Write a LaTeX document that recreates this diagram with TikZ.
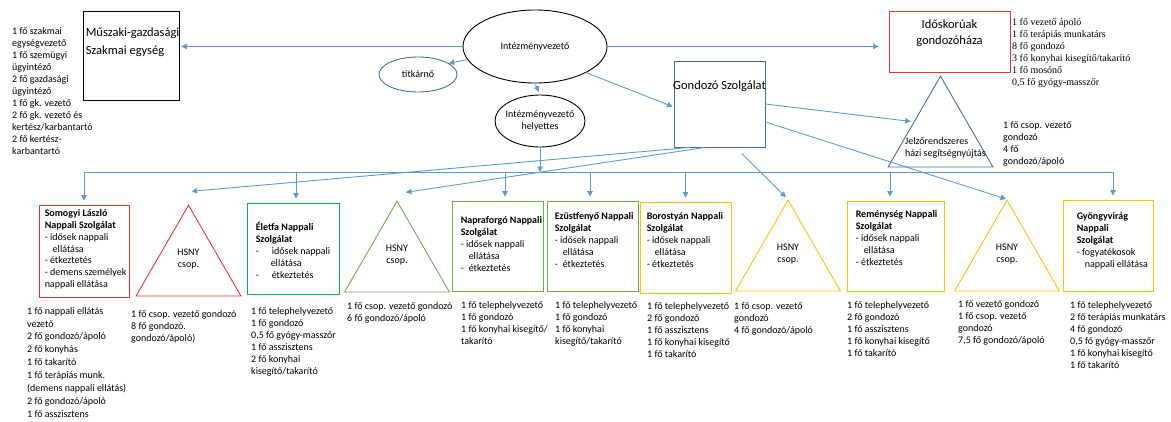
\documentclass[tikz,border=0pt]{standalone}
\usepackage{fontspec}
\setmainfont{Carlito}
\newfontfamily\timesfont{Liberation Serif}
\usetikzlibrary{shapes.geometric,arrows.meta}
\definecolor{lineblue}{RGB}{91,155,213}
\definecolor{darkblue}{RGB}{65,113,156}
\definecolor{boxred}{RGB}{237,50,50}
\definecolor{boxgreen}{RGB}{0,176,80}
\definecolor{lightgreen}{RGB}{112,173,71}
\definecolor{boxyellow}{RGB}{255,192,0}
\tikzset{
  conn/.style={draw=lineblue, line width=0.9pt},
  arr/.style={conn, -{Triangle[length=5.5pt,width=5.5pt]}},
  unit/.style={rectangle, draw, line width=0.9pt, inner sep=0pt},
  oval/.style={ellipse, draw, line width=0.9pt, inner sep=0pt, font=\fontsize{10}{12}\selectfont},
  hsny/.style={regular polygon, regular polygon sides=3, minimum size=121pt, inner sep=0pt,
    draw, line width=0.9pt, align=center, font=\fontsize{10}{11.5}\selectfont},
  txt/.style={inner sep=0pt, font=\fontsize{10}{12}\selectfont},
  lst/.style={txt, anchor=north west, align=left},
}
\begin{document}
\begin{tikzpicture}[x=1pt, y=-1pt]
\useasboundingbox (0,0) rectangle (1171,421);

\node[oval, minimum width=144pt, minimum height=73pt] (iv) at (535,46.5) {Intézményvezető};
\node[oval, draw=darkblue, minimum width=78pt, minimum height=35pt] (titk) at (418,74.5) {titkárnő};
\node[oval, minimum width=90pt, minimum height=52pt] (dep) at (540,121) {};
\node[txt, align=center, font=\fontsize{10}{11.5}\selectfont] (deptxt) at (dep) {Intézményvezető\\helyettes};

\node[unit, minimum width=96pt, minimum height=89pt] (musz) at (131,55.5) {};
\node[lst, font=\fontsize{12.5}{18}\selectfont] (musztxt) at ([xshift=3pt,yshift=-17pt]musz.north west) {Műszaki-gazdasági\\Szakmai egység};
\node[lst] (muszlst) at (12,27) {1 fő szakmai\\egységvezető\\1 fő szemügyi\\ügyintéző\\2 fő gazdasági\\ügyintéző\\1 fő gk. vezető\\2 fő gk. vezető és\\kertész/karbantartó\\2 fő kertész-\\karbantartó};

\node[unit, draw=boxred, minimum width=121pt, minimum height=61pt] (idos) at (949.5,41.5) {};
\node[txt, align=center, font=\fontsize{12.5}{16}\selectfont] (idostxt) at ([yshift=8.5pt]idos.center) {Időskorúak\\gondozóháza};
\node[lst, font=\timesfont\fontsize{10}{12}\selectfont] (idoslst) at (1012,18) {1 fő vezető ápoló\\1 fő terápiás munkatárs\\8 fő gondozó\\3 fő konyhai kisegítő/takarító\\1 fő mosónő\\0,5 fő gyógy-masszőr};

\node[unit, draw=darkblue, minimum width=91pt, minimum height=86pt] (gondozo) at (719.5,104) {};
\node[txt, font=\fontsize{12.5}{15}\selectfont] (gondozotxt) at ([yshift=-26pt]gondozo.north) {Gondozó Szolgálat};

\node[hsny, draw=darkblue] (jelzo) at (940.5,136.7) {};
\node[lst] (jelzotxt) at (905,137) {Jelzőrendszeres\\házi segítségnyújtás};
\node[lst] (jelzolst) at (1003,121) {1 fő csop. vezető\\gondozó\\4 fő\\gondozó/ápoló};

\node[unit, draw=boxred, minimum width=90pt, minimum height=92pt] (somogyi) at (84,251) {};
\node[lst, font=\fontsize{10}{11.8}\selectfont] (somogyitxt) at ([xshift=6pt,yshift=-5pt]somogyi.north west) {\textbf{Somogyi László}\\\textbf{Nappali Szolgálat}\\- idősek nappali\\\hspace*{0.8em}ellátása\\- étkeztetés\\- demens személyek\\nappali ellátása};
\node[lst, font=\fontsize{10}{12.9}\selectfont] (somogyilst) at (27,307) {1 fő nappali ellátás\\vezető\\2 fő gondozó/ápoló\\2 fő konyhás\\1 fő takarító\\1 fő terápiás munk.\\(demens nappali ellátás)\\2 fő gondozó/ápoló\\1 fő asszisztens};

\node[hsny, draw=boxred] (hsnya) at (188.5,265.7) {HSNY\\csop.\\[3pt]};
\node[lst] (hsnyalst) at (131,310) {1 fő csop. vezető gondozó\\8 fő gondozó.\\gondozó/ápoló)};

\node[unit, draw=boxgreen, minimum width=92pt, minimum height=91pt] (eletfa) at (293,248.5) {};
\node[lst] (eletfatxt) at ([xshift=9pt,yshift=-19pt]eletfa.north west) {\textbf{Életfa Nappali}\\\textbf{Szolgálat}\\-\hspace{1.3em}idősek nappali\\\hspace*{1.5em}ellátása\\-\hspace{1.3em}étkeztetés};
\node[lst] (eletfalst) at (251,307) {1 fő telephelyvezető\\1 fő gondozó\\0,5 fő gyógy-masszőr\\1 fő asszisztens\\2 fő konyhai\\kisegítő/takarító};

\node[hsny, draw=lightgreen] (hsnyb) at (397,261.7) {HSNY\\csop.\\[3pt]};
\node[lst] (hsnyblst) at (347,302) {1 fő csop. vezető gondozó\\6 fő gondozó/ápoló};

\node[unit, draw=lightgreen, minimum width=91pt, minimum height=90pt] (napra) at (497.5,246) {};
\node[lst] (napratxt) at ([xshift=9pt,yshift=-16pt]napra.north west) {\textbf{Napraforgó Nappali}\\\textbf{Szolgálat}\\- idősek nappali\\\hspace*{0.8em}ellátása\\-\hspace{0.5em}étkeztetés};
\node[lst] (napralst) at (461,301) {1 fő telephelyvezető\\1 fő gondozó\\1 fő konyhai kisegítő/\\takarító};

\node[unit, draw=lightgreen, minimum width=91pt, minimum height=90pt] (ezust) at (592.5,246) {};
\node[lst] (ezusttxt) at ([xshift=8pt,yshift=-12pt]ezust.north west) {\textbf{Ezüstfenyő Nappali}\\\textbf{Szolgálat}\\- idősek nappali\\\hspace*{0.8em}ellátása\\-\hspace{0.5em}étkeztetés};
\node[lst] (ezustlst) at (555,301) {1 fő telephelyvezető\\1 fő gondozó\\1 fő konyhai\\kisegítő/takarító};

\node[unit, draw=boxyellow, minimum width=91pt, minimum height=91pt] (boros) at (685.5,247.5) {};
\node[lst] (borostxt) at ([xshift=7pt,yshift=-11pt]boros.north west) {\textbf{Borostyán Nappali}\\\textbf{Szolgálat}\\- idősek nappali\\\hspace*{0.8em}ellátása\\- étkeztetés};
\node[lst] (boroslst) at (647,302) {1 fő telephelyvezető\\2 fő gondozó\\1 fő asszisztens\\1 fő konyhai kisegítő\\1 fő takarító};

\node[hsny, draw=boxyellow] (hsnyc) at (788,260.7) {HSNY\\csop.\\[3pt]};
\node[lst] (hsnyclst) at (734,302) {1 fő csop. vezető\\gondozó\\4 fő gondozó/ápoló};

\node[unit, draw=boxyellow, minimum width=97pt, minimum height=90pt] (remeny) at (895.5,246) {};
\node[lst] (remenytxt) at ([xshift=9pt,yshift=-10pt]remeny.north west) {\textbf{Reménység Nappali}\\\textbf{Szolgálat}\\- idősek nappali\\\hspace*{0.8em}ellátása\\- étkeztetés};
\node[lst] (remenylst) at (847,301) {1 fő telephelyvezető\\2 fő gondozó\\1 fő asszisztens\\1 fő konyhai kisegítő\\1 fő takarító};

\node[hsny, draw=boxyellow] (hsnyd) at (1007,260.7) {HSNY\\csop.\\[3pt]};
\node[lst] (hsnydlst) at (958,300) {1 fő vezető gondozó\\1 fő csop. vezető\\gondozó\\7,5 fő gondozó/ápoló};

\node[unit, draw=boxyellow, minimum width=90pt, minimum height=91pt] (gyongy) at (1108,245.5) {};
\node[lst] (gyongytxt) at ([xshift=14pt,yshift=-13pt]gyongy.north west) {\textbf{Gyöngyvirág}\\\textbf{Nappali}\\\textbf{Szolgálat}\\- fogyatékosok\\\hspace*{0.8em}nappali ellátása};
\node[lst] (gyongylst) at (1070,301) {1 fő telephelyvezető\\2 fő terápiás munkatárs\\4 fő gondozó\\0,5 fő gyógy-masszőr\\1 fő konyhai kisegítő\\1 fő takarító};

\coordinate (barl) at (84.5,172);
\coordinate (barr) at (1113,172);

\draw[arr, shorten >=2pt] (iv.west) -- (iv.west -| musz.east);
\draw[arr, shorten >=10pt] (iv.east) -- (iv.east -| idos.west);
\draw[arr] (iv.191) -- (titk.20);
\draw[arr, shorten <=1pt, shorten >=3pt] (iv.south) -- (dep.north);
\draw[arr, shorten >=1pt] (iv.-27) -- ([yshift=-3pt]gondozo.west);
\draw[arr, shorten >=3pt] (gondozo.east) -- (jelzo.151);
\draw[arr, shorten <=1pt, shorten >=1pt] ([yshift=-18pt]gondozo.east) -- (hsnyd.corner 1);
\draw[arr, shorten <=9pt, shorten >=3pt] ([xshift=16pt]gondozo.south) -- (hsnyc.corner 1);
\draw[arr] ([xshift=-30pt]gondozo.south) -- ([xshift=3pt,yshift=13pt]hsnya.corner 1);
\draw[arr] ([xshift=-14.5pt]gondozo.south) -- ([xshift=9pt,yshift=8pt]hsnyb.corner 1);

\draw[conn] (barl) -- (barr);
\draw[arr] (dep.south) -- (dep.south |- barl);
\draw[arr, shorten >=4pt] (somogyi.north |- barl) -- (somogyi.north);
\draw[arr, shorten >=4pt] ([xshift=3pt]eletfa.north |- barl) -- ([xshift=3pt]eletfa.north);
\draw[arr, shorten >=4pt] ([xshift=7.5pt]napra.north |- barl) -- ([xshift=7.5pt]napra.north);
\draw[arr, shorten >=4pt] ([xshift=-2.5pt]ezust.north |- barl) -- ([xshift=-2.5pt]ezust.north);
\draw[arr, shorten >=4pt] (boros.north |- barl) -- (boros.north);
\draw[arr, shorten >=4pt] ([xshift=-5.5pt]remeny.north |- barl) -- ([xshift=-5.5pt]remeny.north);
\draw[arr, shorten >=4pt] (barr) -- (barr |- gyongy.north);
\end{tikzpicture}
\end{document}
